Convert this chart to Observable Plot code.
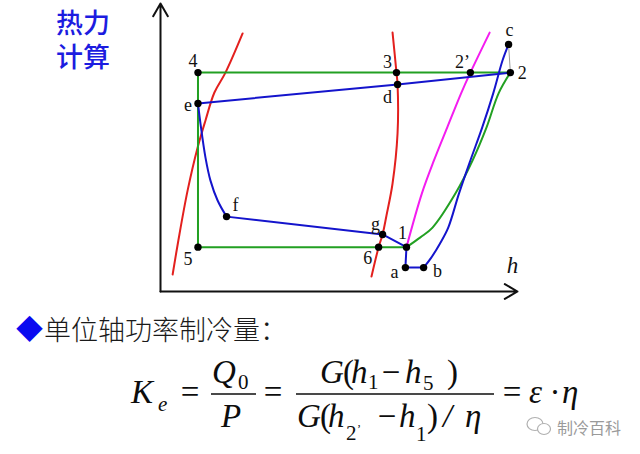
<!DOCTYPE html>
<html><head><meta charset="utf-8">
<script src="https://cdn.jsdelivr.net/npm/d3@7"></script>
<script src="https://cdn.jsdelivr.net/npm/@observablehq/plot@0.6"></script>
<style>
html,body{margin:0;padding:0;background:#fff;}
#wrap{position:relative;width:640px;height:454px;overflow:hidden;background:#fff;}
#chart{position:absolute;left:0;top:0;}
#chart svg text{font-family:'Liberation Serif','Times New Roman',serif;}
#overlay{position:absolute;left:0;top:0;}
</style></head><body>
<div id="wrap"><div id="chart"></div><svg id="overlay" width="640" height="454"></svg></div>
<script>
// ---- data (schematic lg p – h diagram, abstract units 0..100) ----
const stateNames = ["4", "e", "f", "5", "3", "d", "2’", "2", "c", "g", "6", "1", "a", "b"];
const stateH = [10.5, 10.5, 18.5, 10.5, 66.1, 66.4, 86.8, 98.0, 97.5, 62.2, 61.1, 68.9, 68.6, 73.7];
const stateP = [76.0, 65.3, 26.0, 15.4, 76.0, 71.9, 76.0, 76.0, 85.8, 19.8, 15.4, 15.4, 8.3, 8.3];

const redLeftH = [3.4, 5.0, 7.6, 10.4, 12.6, 15.1, 18.2, 23.0];
const redLeftP = [5.9, 17.7, 35.1, 50.0, 59.4, 69.1, 76.0, 89.6];
const redRightH = [65.0, 66.1, 66.4, 66.4, 65.0, 63.3, 62.2, 61.1, 59.1];
const redRightP = [89.9, 76.0, 71.9, 54.9, 37.5, 26.4, 19.8, 15.4, 5.2];
const magentaH = [68.9, 73.2, 76.6, 80.3, 84.2, 86.8, 92.2];
const magentaP = [15.4, 34.0, 45.5, 56.9, 68.8, 76.0, 89.9];
const greenCurveH = [68.9, 72.8, 76.2, 82.6, 87.4, 91.3, 94.7, 98.0];
const greenCurveP = [15.4, 18.8, 22.2, 34.0, 45.5, 56.9, 68.8, 76.0];
const blueEfH = [10.5, 11.2, 12.6, 14.0, 16.0, 18.5];
const blueEfP = [65.3, 58.3, 46.5, 38.5, 31.6, 26.0];
const blueBcH = [73.7, 75.7, 78.3, 80.6, 83.6, 86.8, 90.1, 93.2, 95.8, 97.5];
const blueBcP = [8.3, 11.5, 16.7, 22.2, 34.0, 45.5, 56.9, 68.8, 80.2, 85.8];

const greenCycle = ["2", "2’", "3", "4", "5", "6", "1"];
const blueTop = ["2", "d", "e"];
const blueLow = ["f", "g", "1", "a", "b"];
const grayLink = ["c", "2"];

const axisSegments = [{h1: 0, p1: 0, h2: 100, p2: 0}, {h1: 0, p1: 0, h2: 0, p2: 100}];
const axisLabel = ["h"];

const titleLines = ["热力", "计算"];
const bulletText = "单位轴功率制冷量：";
const watermark = "制冷百科";

// ---- styles ----
const RED = "#e3201e", GREEN = "#22a022", BLUE = "#1414cc", MAGENTA = "#f41cf0";
const labelOffset = {"4": [-5, -11], "e": [-10, 2], "f": [9, -11], "5": [-10, 12], "3": [-9, -10],
  "d": [-10, 13], "2’": [-8, -10], "2": [12, 1], "c": [1, -14], "g": [-7, -10], "6": [-11, 11],
  "1": [-4, -14], "a": [-11, 5], "b": [14, 4]};

const zip = (hs, ps) => hs.map((h, i) => ({h, p: ps[i]}));
const states = stateNames.map((name, i) => ({name, h: stateH[i], p: stateP[i]}));
const byName = Object.fromEntries(states.map(d => [d.name, d]));
const path = names => names.map(n => byName[n]);

const lineOpts = (stroke, curve) => ({x: "h", y: "p", stroke, strokeWidth: 2, curve});

const chart = Plot.plot({
  width: 640, height: 300,
  marginLeft: 160, marginRight: 123, marginTop: 3, marginBottom: 9,
  x: {domain: [0, 100], axis: null},
  y: {domain: [0, 100], axis: null},
  marks: [
    Plot.arrow(axisSegments, {x1: "h1", y1: "p1", x2: "h2", y2: "p2", stroke: "#111", strokeWidth: 2, headLength: 11}),
    Plot.line(zip(redLeftH, redLeftP), lineOpts(RED, "catmull-rom")),
    Plot.line(zip(redRightH, redRightP), lineOpts(RED, "catmull-rom")),
    Plot.line(zip(magentaH, magentaP), lineOpts(MAGENTA, "catmull-rom")),
    Plot.line(path(greenCycle), lineOpts(GREEN, "linear")),
    Plot.line(zip(greenCurveH, greenCurveP), lineOpts(GREEN, "catmull-rom")),
    Plot.line(path(grayLink), {x: "h", y: "p", stroke: "#9a9a9a", strokeWidth: 1}),
    Plot.line(path(blueTop), lineOpts(BLUE, "linear")),
    Plot.line(zip(blueEfH, blueEfP), lineOpts(BLUE, "catmull-rom")),
    Plot.line(path(blueLow), lineOpts(BLUE, "linear")),
    Plot.line(zip(blueBcH, blueBcP), lineOpts(BLUE, "catmull-rom")),
    Plot.dot(states, {x: "h", y: "p", r: 3.7, fill: "#000", stroke: "none"}),
    ...states.map(s => Plot.text([s], {x: "h", y: "p", text: "name",
      dx: labelOffset[s.name][0], dy: labelOffset[s.name][1],
      fontSize: 18, fontFamily: "Liberation Serif", fill: "#111"})),
    Plot.text(axisLabel, {frameAnchor: "bottom-right", text: d => d, dx: -5, dy: -19,
      textAnchor: "middle", fontSize: 23, fontStyle: "italic", fontFamily: "Liberation Serif", fill: "#111"})
  ]
});
document.getElementById("chart").appendChild(chart);

// ---- title, caption and formula (text overlay) ----
const svg = d3.select("#overlay");
const CJK = "'Noto Sans CJK SC', sans-serif";
const SERIF = "'Liberation Serif', 'Times New Roman', serif";

titleLines.forEach((t, i) => {
  svg.append("text").attr("x", 56).attr("y", 33 + i * 34).attr("font-family", CJK)
    .attr("font-size", 27).attr("font-weight", 500).attr("fill", "#1c1ce0").text(t);
});

svg.append("text").attr("x", 16).attr("y", 339).attr("font-family", CJK).attr("font-size", 27)
  .attr("fill", "#0a0af0").text("◆");
svg.append("text").attr("x", 44).attr("y", 340).attr("font-family", CJK).attr("font-size", 27)
  .attr("font-weight", 300).attr("fill", "#1a1a1a").text(bulletText);

const F = 33, S = 21;
const glyphs = [
  {t: "K", x: 131, y: 403, it: 1, s: F},
  {t: "e", x: 158, y: 411, it: 1, s: S},
  {t: "=", x: 190, y: 403, s: F, mid: 1},
  {t: "Q", x: 212, y: 383, it: 1, s: F},
  {t: "0", x: 238, y: 389, s: S},
  {t: "P", x: 221, y: 427, it: 1, s: F},
  {t: "=", x: 273, y: 403, s: F, mid: 1},
  {t: "G", x: 320, y: 383, it: 1, s: F},
  {t: "(", x: 343, y: 383, s: F},
  {t: "h", x: 351, y: 383, it: 1, s: F},
  {t: "1", x: 368, y: 389, s: S},
  {t: "−", x: 391, y: 383, s: F, mid: 1},
  {t: "h", x: 405, y: 383, it: 1, s: F},
  {t: "5", x: 423, y: 390, s: S},
  {t: ")", x: 447, y: 383, s: F},
  {t: "G", x: 297, y: 427, it: 1, s: F},
  {t: "(", x: 320, y: 427, s: F},
  {t: "h", x: 328, y: 427, it: 1, s: F},
  {t: "2", x: 346, y: 440, s: S},
  {t: "’", x: 357, y: 433, s: 12},
  {t: "−", x: 387, y: 427, s: F, mid: 1},
  {t: "h", x: 399, y: 427, it: 1, s: F},
  {t: "1", x: 416, y: 441, s: S},
  {t: ")", x: 427, y: 427, s: F},
  {t: "/", x: 443, y: 427, it: 1, s: F},
  {t: "η", x: 465, y: 427, it: 1, s: F},
  {t: "=", x: 512, y: 403, s: F, mid: 1},
  {t: "ε", x: 529, y: 403, it: 1, s: F},
  {t: "·", x: 555, y: 403, s: F, mid: 1},
  {t: "η", x: 562, y: 403, it: 1, s: F}
];
glyphs.forEach(g => {
  svg.append("text").attr("x", g.x).attr("y", g.y).attr("font-family", SERIF)
    .attr("font-size", g.s).attr("font-style", g.it ? "italic" : "normal")
    .attr("text-anchor", g.mid ? "middle" : "start").attr("fill", "#0d0d0d").text(g.t);
});
[[211, 256], [296, 494]].forEach(([a, b]) => {
  svg.append("line").attr("x1", a).attr("x2", b).attr("y1", 394).attr("y2", 394)
    .attr("stroke", "#0d0d0d").attr("stroke-width", 1.6);
});

// watermark
const wm = svg.append("g").attr("fill", "none").attr("stroke", "#b0b0b0").attr("stroke-width", 1.2);
wm.append("ellipse").attr("cx", 535).attr("cy", 424).attr("rx", 8).attr("ry", 6.5).attr("fill", "#fff");
wm.append("ellipse").attr("cx", 544).attr("cy", 429).attr("rx", 6.5).attr("ry", 5.5).attr("fill", "#fff");
svg.append("text").attr("x", 557).attr("y", 434).attr("font-family", CJK).attr("font-size", 16)
  .attr("fill", "#9a9a9a").text(watermark);
</script>
</body></html>
